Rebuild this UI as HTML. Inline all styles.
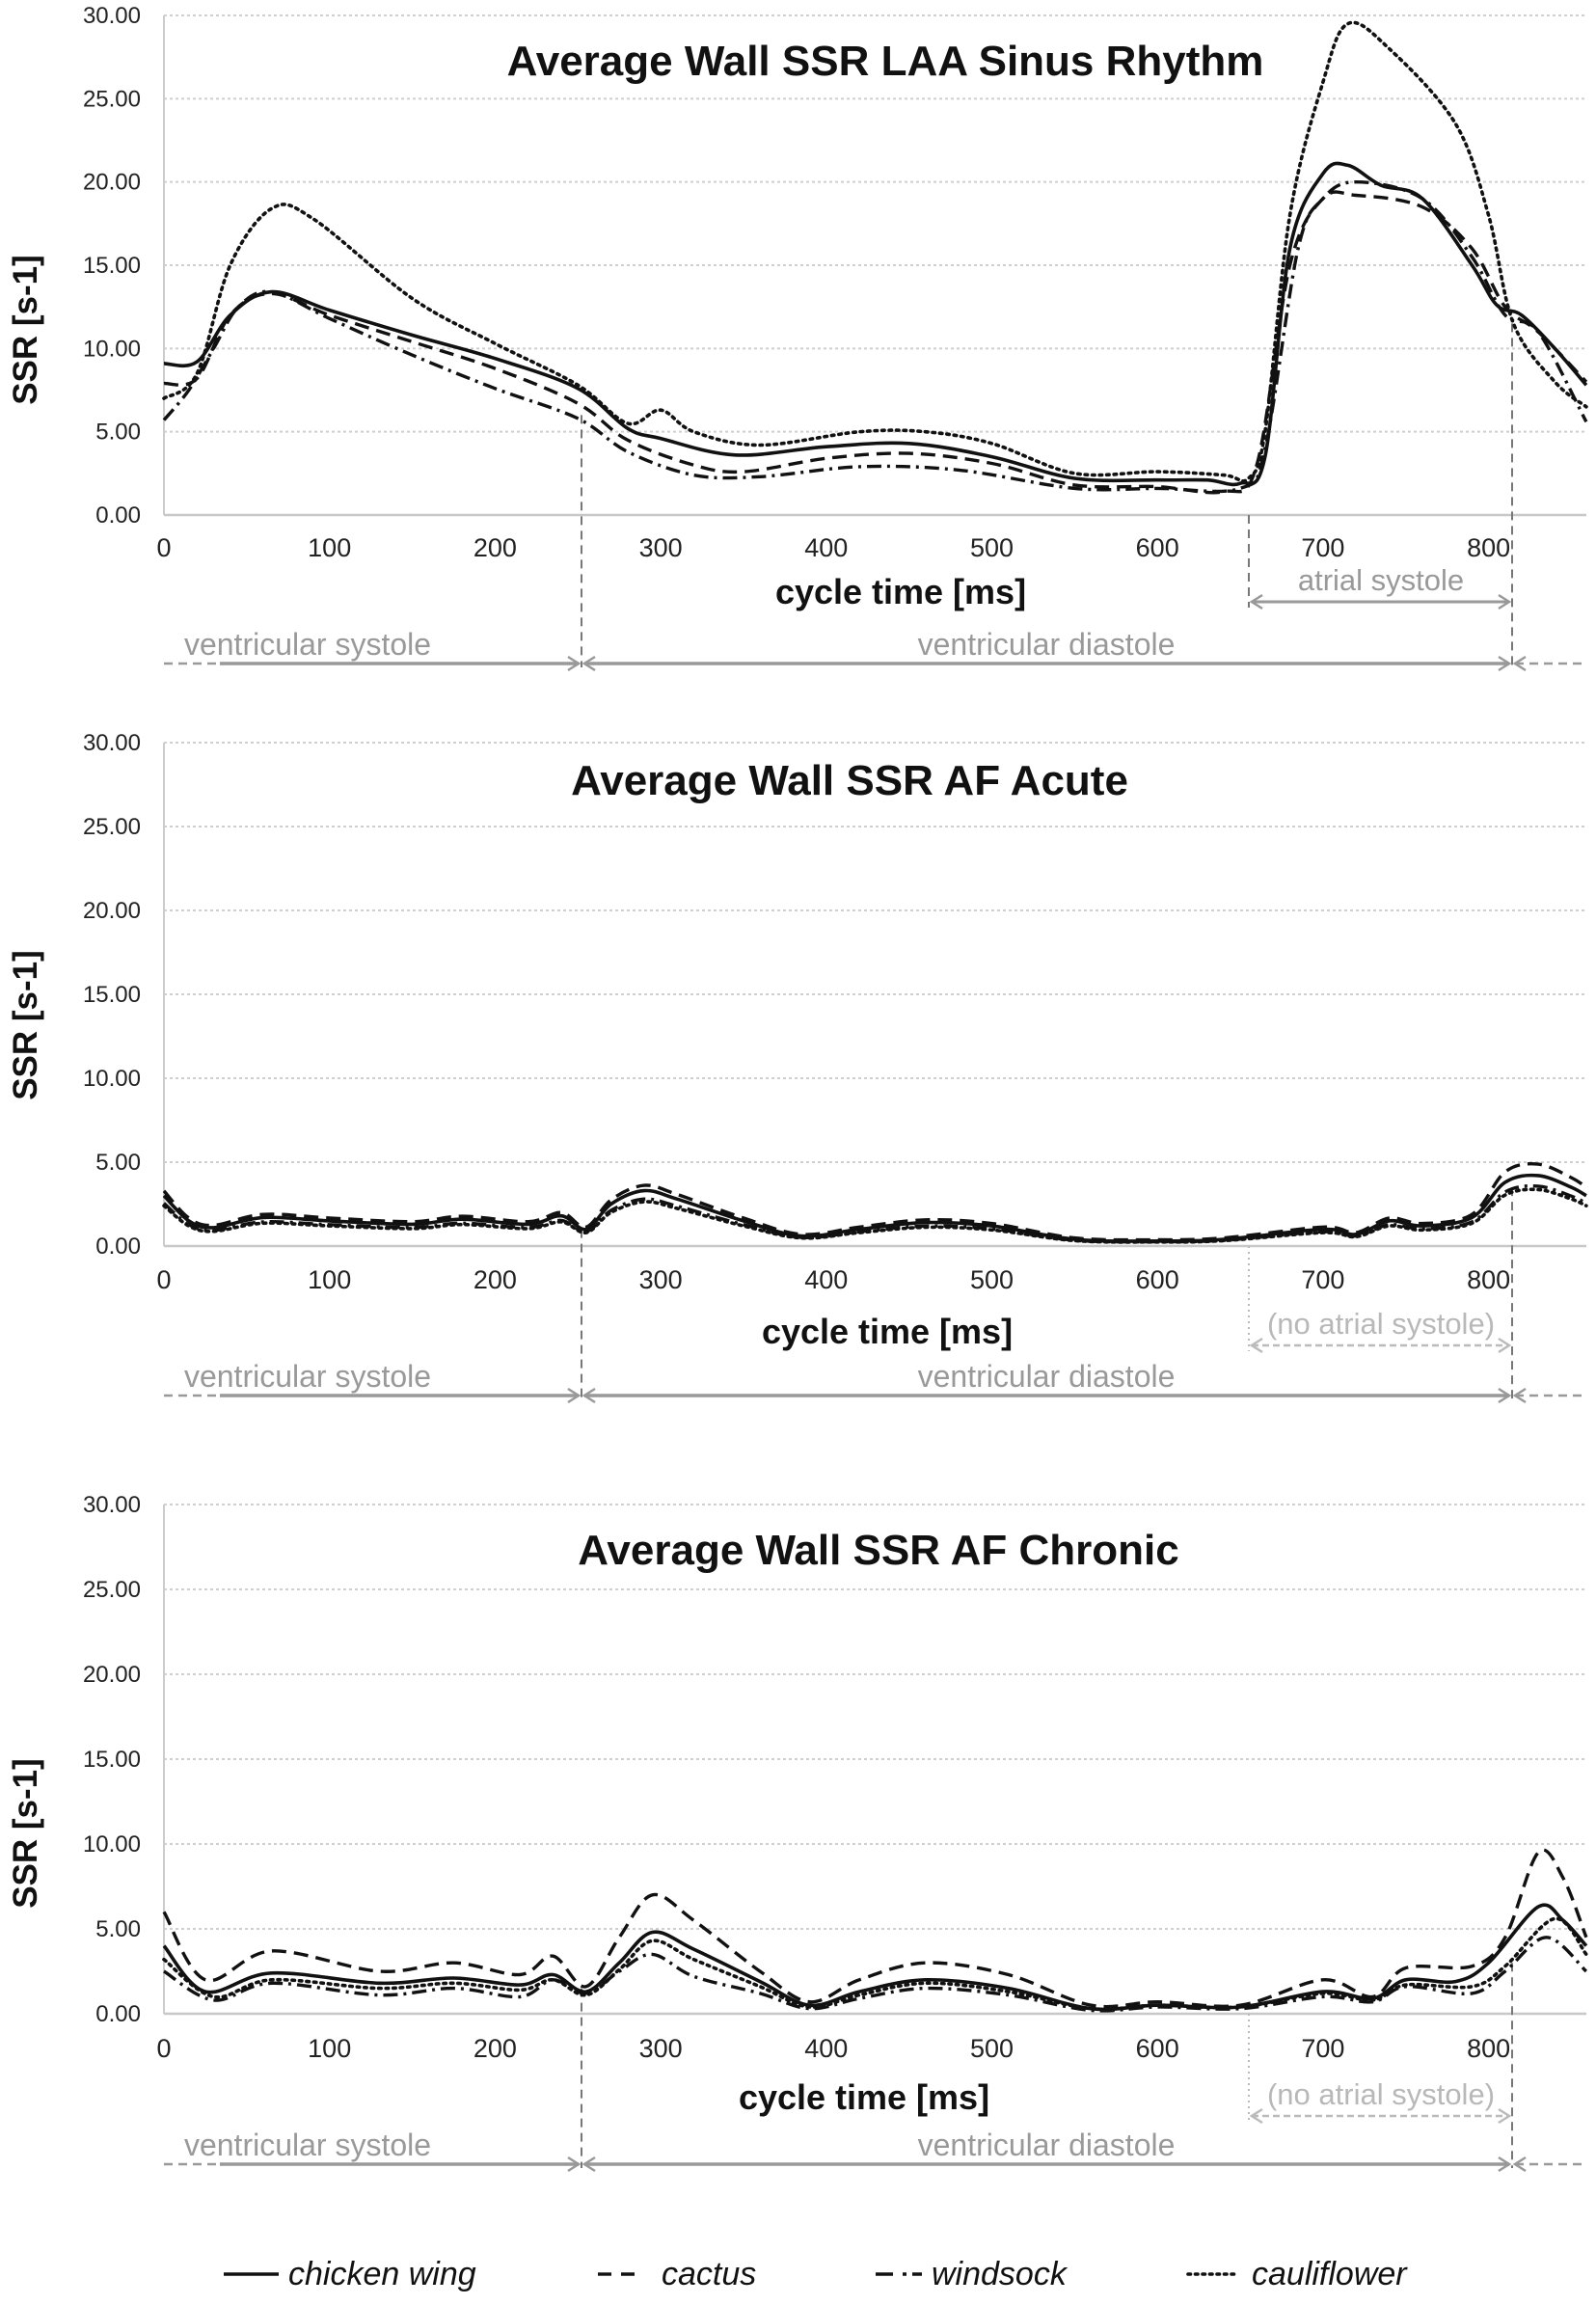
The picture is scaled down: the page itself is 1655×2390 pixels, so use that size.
<!DOCTYPE html>
<html><head><meta charset="utf-8"><style>
html,body{margin:0;padding:0;background:#fff;}
svg text{font-family:"Liberation Sans",sans-serif;}
</style></head><body>
<svg id="s" xmlns="http://www.w3.org/2000/svg" width="1655" height="2385" viewBox="0 0 1655 2385"></svg>
<script>
const S=document.getElementById('s');
let h='';
const X0=170, PX=171.7;
const xm=t=>X0+t*PX/100;
function path(pts,ty){
  const p=pts.map(a=>[xm(a[0]),ty(a[1])]);
  let d='M'+p[0][0].toFixed(1)+' '+p[0][1].toFixed(1);
  for(let i=0;i<p.length-1;i++){
    const a=p[i-1]||p[i],b=p[i],c=p[i+1],e=p[i+2]||c;
    const c1=[b[0]+(c[0]-a[0])/6,b[1]+(c[1]-a[1])/6];
    const c2=[c[0]-(e[0]-b[0])/6,c[1]-(e[1]-b[1])/6];
    d+=' C'+c1.map(v=>v.toFixed(1)).join(' ')+' '+c2.map(v=>v.toFixed(1)).join(' ')+' '+c[0].toFixed(1)+' '+c[1].toFixed(1);
  }
  return d;
}
const ST=[
 'stroke-width="3.6"',
 'stroke-width="3.4" stroke-dasharray="15 8"',
 'stroke-width="3.4" stroke-dasharray="15 6 3 6"',
 'stroke-width="3.6" stroke-dasharray="2.5 5" stroke-linecap="round"'
];
function chart(c){
  const top=c.top, z=c.zero, u=(z-top)/30;
  const ty=v=>z-v*u;
  for(let k=1;k<=6;k++){
    const y=ty(k*5);
    h+=`<line x1="${X0}" x2="1645" y1="${y}" y2="${y}" stroke="#cfcfcf" stroke-width="2" stroke-dasharray="3 3"/>`;
  }
  h+=`<line x1="${X0}" x2="${X0}" y1="${top}" y2="${z}" stroke="#cccccc" stroke-width="2"/>`;
  h+=`<line x1="${X0}" x2="1645" y1="${z}" y2="${z}" stroke="#c8c8c8" stroke-width="2.5"/>`;
  for(let k=0;k<=6;k++){
    h+=`<text x="146" y="${ty(k*5)+8}" font-size="24" text-anchor="end" fill="#222">${(k*5).toFixed(2)}</text>`;
  }
  for(let k=0;k<=8;k++){
    h+=`<text x="${xm(k*100)}" y="${c.xt}" font-size="27" text-anchor="middle" fill="#222">${k*100}</text>`;
  }
  h+=`<text x="${c.tx}" y="${c.tyy}" font-size="44" font-weight="bold" text-anchor="middle" fill="#111">${c.title}</text>`;
  h+=`<text transform="translate(38,${c.yl}) rotate(-90)" font-size="35" font-weight="bold" text-anchor="middle" fill="#111">SSR [s-1]</text>`;
  h+=`<text x="${c.xlx}" y="${c.xly}" font-size="36" font-weight="bold" text-anchor="middle" fill="#111">cycle time [ms]</text>`;
  const xa=603, xb=1568, xc=1295;
  h+=`<line x1="${xa}" x2="${xa}" y1="${ty(c.vaStart)}" y2="${c.arY+4}" stroke="#777" stroke-width="2" stroke-dasharray="9 6"/>`;
  h+=`<line x1="${xb}" x2="${xb}" y1="${ty(c.vbStart)}" y2="${c.arY+4}" stroke="#777" stroke-width="2" stroke-dasharray="9 6"/>`;
  h+=`<line x1="${xc}" x2="${xc}" y1="${z}" y2="${c.atY+6}" stroke="${c.noAtr?'#bbb':'#777'}" stroke-width="2" stroke-dasharray="${c.noAtr?'2 4':'9 6'}"/>`;
  if(c.noAtr){
    h+=`<text x="1432" y="${c.atY-12}" font-size="31" text-anchor="middle" fill="#b8b8b8">(no atrial systole)</text>`;
    h+=`<line x1="${xc+3}" x2="${xb-3}" y1="${c.atY}" y2="${c.atY}" stroke="#bbb" stroke-width="2.5" stroke-dasharray="7 4"/>`;
    h+=`<path d="M${xc+14} ${c.atY-7} L${xc+3} ${c.atY} L${xc+14} ${c.atY+7} M${xb-14} ${c.atY-7} L${xb-3} ${c.atY} L${xb-14} ${c.atY+7}" stroke="#bbb" stroke-width="2.5" fill="none"/>`;
  } else {
    h+=`<text x="1432" y="${c.atY-12}" font-size="31" text-anchor="middle" fill="#999">atrial systole</text>`;
    h+=`<line x1="${xc+3}" x2="${xb-3}" y1="${c.atY}" y2="${c.atY}" stroke="#999" stroke-width="3"/>`;
    h+=`<path d="M${xc+14} ${c.atY-7} L${xc+3} ${c.atY} L${xc+14} ${c.atY+7} M${xb-14} ${c.atY-7} L${xb-3} ${c.atY} L${xb-14} ${c.atY+7}" stroke="#999" stroke-width="2.5" fill="none"/>`;
  }
  const ay=c.arY;
  h+=`<text x="319" y="${ay-9}" font-size="32" text-anchor="middle" fill="#999">ventricular systole</text>`;
  h+=`<text x="1085" y="${ay-9}" font-size="32" text-anchor="middle" fill="#999">ventricular diastole</text>`;
  h+=`<line x1="170" x2="228" y1="${ay}" y2="${ay}" stroke="#999" stroke-width="2.5" stroke-dasharray="9 6"/>`;
  h+=`<line x1="228" x2="${xa-3}" y1="${ay}" y2="${ay}" stroke="#999" stroke-width="3.5"/>`;
  h+=`<line x1="${xa+3}" x2="${xb-3}" y1="${ay}" y2="${ay}" stroke="#999" stroke-width="3.5"/>`;
  h+=`<line x1="${xb+3}" x2="1645" y1="${ay}" y2="${ay}" stroke="#999" stroke-width="2.5" stroke-dasharray="9 6"/>`;
  h+=`<path d="M${xa-14} ${ay-7} L${xa-3} ${ay} L${xa-14} ${ay+7} M${xa+14} ${ay-7} L${xa+3} ${ay} L${xa+14} ${ay+7} M${xb-14} ${ay-7} L${xb-3} ${ay} L${xb-14} ${ay+7} M${xb+14} ${ay-7} L${xb+3} ${ay} L${xb+14} ${ay+7}" stroke="#999" stroke-width="2.5" fill="none"/>`;
  c.series.forEach((pts,i)=>{
    h+=`<path d="${path(pts,ty)}" fill="none" stroke="#111" ${ST[i]} stroke-linejoin="round"/>`;
  });
}
const s1=[
 [[0,9.1],[20,9.2],[40,12],[65,13.4],[100,12.3],[150,10.8],[200,9.4],[250,7.6],[280,5.2],[300,4.6],[345,3.6],[400,4.1],[450,4.3],[500,3.5],[550,2.2],[600,2.1],[630,2.1],[650,1.9],[665,3.5],[680,16],[700,20.5],[715,21],[735,19.8],[760,19],[790,15],[805,12.6],[820,12],[840,10],[859,7.8]],
 [[0,7.9],[20,8.2],[40,12],[65,13.3],[100,12],[150,10.4],[200,8.8],[250,6.7],[280,4.5],[320,3],[350,2.6],[400,3.4],[450,3.7],[500,3.1],[550,1.8],[600,1.7],[640,1.4],[660,3],[680,15],[700,19],[720,19.2],[760,18.5],[790,16],[810,12.5],[830,11],[859,8]],
 [[0,5.7],[15,7.5],[30,10],[45,12.5],[65,13.4],[100,11.8],[150,9.6],[200,7.6],[250,5.8],[280,3.8],[320,2.4],[360,2.3],[420,2.9],[480,2.7],[550,1.6],[600,1.6],[650,1.6],[665,4],[685,16],[700,19],[720,20],[760,19],[790,15.5],[810,12],[830,11],[859,5.6]],
 [[0,7],[20,8.5],[40,15],[65,18.4],[90,17.8],[150,13],[200,10.3],[250,7.8],[280,5.5],[300,6.3],[320,5],[360,4.2],[420,5],[460,5],[500,4.3],[550,2.5],[600,2.6],[640,2.4],[655,2.2],[665,5],[680,18],[700,26],[715,29.5],[740,28],[780,23.5],[800,18],[815,11.5],[840,8],[859,6.5]]
];
const base2=[[0,3],[15,1.5],[30,1.1],[60,1.7],[100,1.5],[150,1.3],[180,1.6],[220,1.3],[240,1.8],[255,1],[270,2.5],[290,3.3],[310,2.8],[350,1.5],[385,0.6],[420,1],[460,1.4],[500,1.2],[550,0.4],[600,0.3],[640,0.4],[700,1],[720,0.7],[740,1.5],[760,1.2],[790,1.7],[810,3.8],[830,4.2],[850,3.5],[859,3]];
const s2=[base2,
 base2.map(p=>[p[0],p[1]*(p[0]>800?1.15:1.08)+0.05]),
 base2.map(p=>[p[0],Math.max(0.1,p[1]*0.85)]),
 base2.map(p=>[p[0],Math.max(0.1,p[1]*0.8)])];
const s3=[
 [[0,4],[25,1.3],[65,2.4],[130,1.8],[175,2.1],[215,1.7],[235,2.3],[255,1.3],[275,3],[295,4.8],[320,3.8],[360,1.9],[390,0.5],[420,1.3],[460,2],[510,1.5],[560,0.3],[600,0.5],[650,0.4],[700,1.3],[730,0.9],[750,2],[780,1.9],[800,3],[830,6.3],[845,5.5],[859,4]],
 [[0,6],[25,2],[65,3.7],[130,2.5],[175,3],[215,2.3],[235,3.4],[255,1.6],[275,4.5],[295,7],[320,5.5],[360,2.5],[390,0.7],[420,2],[460,3],[510,2.3],[560,0.5],[600,0.7],[650,0.5],[700,2],[730,1],[750,2.7],[790,2.8],[810,4.5],[830,9.5],[845,8],[859,4.5]],
 [[0,2.5],[30,0.8],[65,1.8],[130,1.1],[175,1.5],[215,1],[235,2],[255,1.2],[275,2.5],[295,3.5],[320,2.2],[360,1.2],[390,0.3],[420,0.9],[460,1.5],[510,1.1],[560,0.2],[600,0.4],[650,0.3],[700,1],[730,0.7],[750,1.6],[790,1.2],[810,2.5],[835,4.5],[859,2.5]],
 [[0,3.2],[30,1],[65,2],[130,1.5],[175,1.8],[215,1.4],[235,2],[255,1.1],[275,2.6],[295,4.3],[320,3.2],[360,1.6],[390,0.4],[420,1.1],[460,1.8],[510,1.3],[560,0.3],[600,0.5],[650,0.4],[700,1.2],[730,0.8],[750,1.7],[790,1.6],[810,2.8],[840,5.6],[859,3.5]]
];
chart({top:16,zero:534,title:'Average Wall SSR LAA Sinus Rhythm',tx:918,tyy:78,yl:342,xt:577,xlx:934,xly:626,atY:624,arY:688,vaStart:6,vbStart:11.5,noAtr:false,series:s1});
chart({top:770,zero:1292,title:'Average Wall SSR AF Acute',tx:881,tyy:824,yl:1063,xt:1336,xlx:920,xly:1393,atY:1395,arY:1447,vaStart:1,vbStart:3.5,noAtr:true,series:s2});
chart({top:1560,zero:2088,title:'Average Wall SSR AF Chronic',tx:911,tyy:1622,yl:1901,xt:2133,xlx:896,xly:2187,atY:2194,arY:2244,vaStart:1.5,vbStart:3,noAtr:true,series:s3});
const LY=2358;
[[232,289,'chicken wing',299],[620,668,'cactus',686],[908,956,'windsock',966],[1232,1282,'cauliflower',1298]].forEach((l,i)=>{
  h+=`<line x1="${l[0]}" x2="${l[1]}" y1="${LY}" y2="${LY}" stroke="#111" ${ST[i].replace(/15 8/,'14 10').replace(/15 6 3 6/,'18 10 4 6')}/>`;
  h+=`<text x="${l[3]}" y="${LY+11}" font-size="34" font-style="italic" fill="#111">${l[2]}</text>`;
});
S.innerHTML=h;
</script>
</body></html>
